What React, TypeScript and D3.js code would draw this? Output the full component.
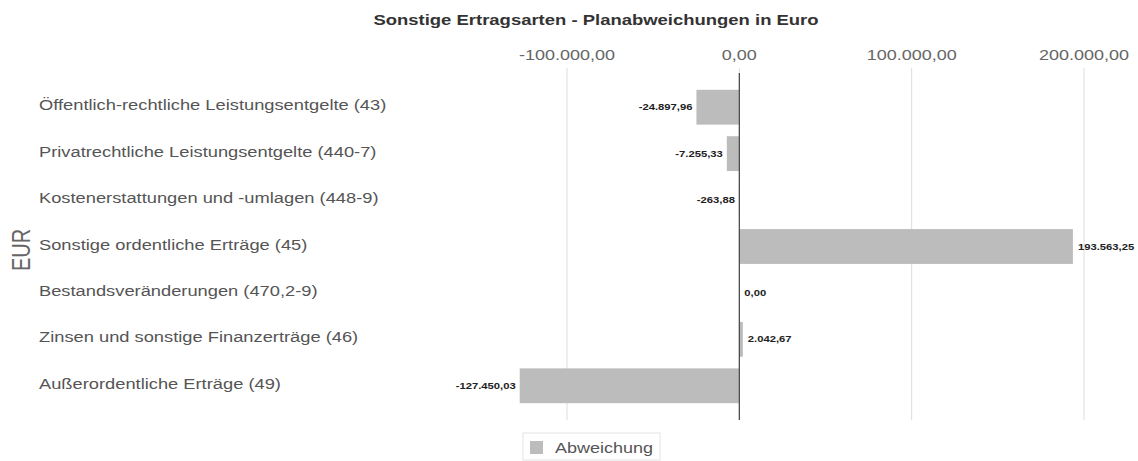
import React from "react";
import * as d3 from "d3";

const categories = [
  "Öffentlich-rechtliche Leistungsentgelte (43)",
  "Privatrechtliche Leistungsentgelte (440-7)",
  "Kostenerstattungen und -umlagen (448-9)",
  "Sonstige ordentliche Erträge (45)",
  "Bestandsveränderungen (470,2-9)",
  "Zinsen und sonstige Finanzerträge (46)",
  "Außerordentliche Erträge (49)",
];
const values = [-24897.96, -7255.33, -263.88, 193563.25, 0.0, 2042.67, -127450.03];
const ticks = [-100000, 0, 100000, 200000];
const seriesName = "Abweichung";
const title = "Sonstige Ertragsarten - Planabweichungen in Euro";
const axisTitle = "EUR";

const W = 1138;
const H = 461;
const FONT = "'Liberation Sans', Arial, sans-serif";

const fmt = (v: number) => {
  const neg = v < 0;
  const a = Math.abs(v);
  const intPart = Math.floor(a + 1e-9);
  const dec = Math.round((a - intPart) * 100);
  const intStr = String(intPart).replace(/\B(?=(\d{3})+(?!\d))/g, ".");
  return (neg ? "-" : "") + intStr + "," + String(dec).padStart(2, "0");
};

type TProps = {
  x: number;
  y: number;
  sx: number;
  anchor?: "start" | "middle" | "end";
  size: number;
  weight?: string;
  fill: string;
  children: React.ReactNode;
};
const SText = ({ x, y, sx, anchor = "start", size, weight = "normal", fill, children }: TProps) => (
  <g transform={`translate(${x},${y}) scale(${sx},1)`}>
    <text x={0} y={0} textAnchor={anchor} fontSize={size} fontWeight={weight} fill={fill}>
      {children}
    </text>
  </g>
);

export default function App() {
  const x = d3.scaleLinear().domain([-100000, 200000]).range([567, 1084]);
  const y = d3.scaleBand<string>().domain(categories).range([84, 409]).paddingInner(0.25).paddingOuter(0.125);
  const x0 = x(0);

  return (
    <svg width={W} height={H} style={{ position: "absolute", left: 0, top: 0, background: "#fff" }} fontFamily={FONT}>
      <SText x={596} y={25} sx={1.32} anchor="middle" size={14} weight="bold" fill="#333">{title}</SText>
      {ticks.map((t) => (
        <g key={t}>
          <line x1={x(t)} x2={x(t)} y1={68} y2={420} stroke="#dcdcdc" strokeWidth={1} />
          <SText x={x(t)} y={60} sx={1.2} anchor="middle" size={15} fill="#666">{fmt(t)}</SText>
        </g>
      ))}
      {categories.map((c, i) => {
        const v = values[i];
        const yy = y(c)!;
        const bw = y.bandwidth();
        const cy = yy + bw / 2;
        const xa = Math.min(x(v), x0);
        const xb = Math.max(x(v), x0);
        const neg = v < 0;
        return (
          <g key={c}>
            <SText x={39} y={cy + 3} sx={1.22} size={15} fill="#555">{c}</SText>
            <rect x={xa} y={yy} width={xb - xa} height={bw} fill="#bcbcbc" />
            <SText x={neg ? xa - 4 : xb + 5} y={cy + 3} sx={1.25} anchor={neg ? "end" : "start"} size={9} weight="bold" fill="#222">
              {fmt(v)}
            </SText>
          </g>
        );
      })}
      <line x1={x0} x2={x0} y1={73} y2={420} stroke="#444" strokeWidth={1.2} />
      <g transform={`translate(30,250) scale(1.28,1) rotate(-90)`}>
        <text x={0} y={0} textAnchor="middle" fontSize={20} fill="#666">{axisTitle}</text>
      </g>
      <rect x={523} y={433} width={137} height={27} fill="#fff" stroke="#e4e4e4" />
      <rect x={530} y={441} width={13} height={13} fill="#bcbcbc" />
      <SText x={555} y={453} sx={1.2} size={15} fill="#555">{seriesName}</SText>
    </svg>
  );
}
